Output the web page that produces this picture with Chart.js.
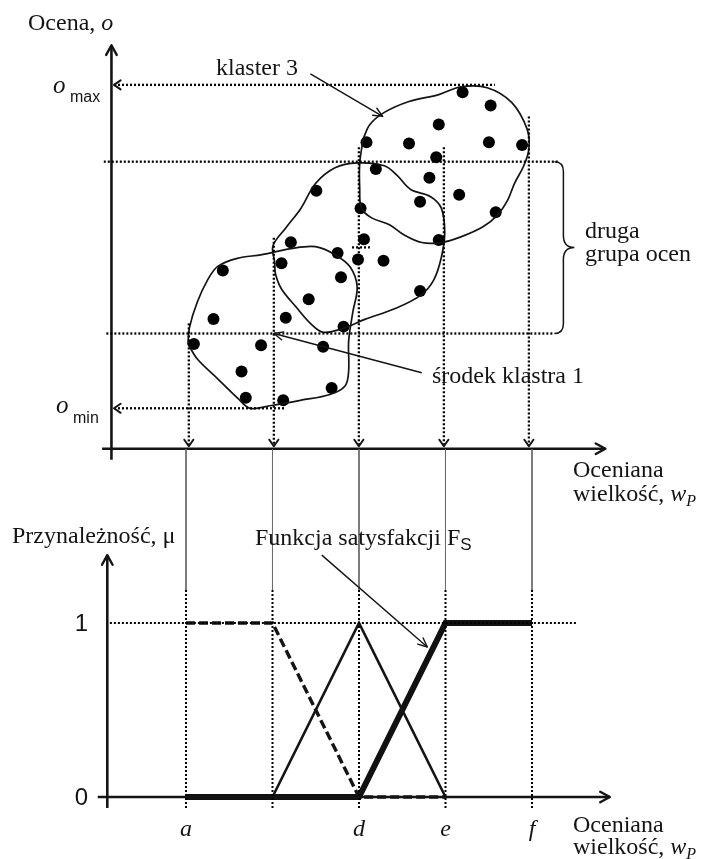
<!DOCTYPE html>
<html>
<head>
<meta charset="utf-8">
<script src="https://cdn.jsdelivr.net/npm/chart.js@4/dist/chart.umd.min.js"></script>
<style>
  html, body { margin: 0; padding: 0; background: #fff; }
  #wrap { position: relative; width: 701px; height: 859px; }
  #wrap canvas { position: absolute; left: 0; top: 0; }
</style>
</head>
<body>
<div id="wrap">
  <canvas id="ratings" width="701" height="859"></canvas>
  <canvas id="membership" width="701" height="859"></canvas>
</div>
<script>
// ---- assessed quantity w_P: characteristic points ----
const wProjections = [1, 2, 3, 4, 5];          // projection lines a, (b), d, e, f
const wTickValues  = [1, 3, 4, 5];
const wTickLabels  = ['a', 'd', 'e', 'f'];

// ---- rating scale o ----
const oMin = 1;
const oMax = 9;
const groupTop = 7.1;        // second rating group, upper bound
const groupBottom = 2.85;    // second rating group, lower bound (centre of cluster 1)
const projectionTops = [3.10, 5.22, 7.46, 7.46, 8.22];

// ---- individual ratings (w_P, o) ----
const ratingW = [1.06,1.29,1.40,1.62,1.67,1.85,2.11,2.09,2.14,2.20,2.41,2.58,2.68,2.50,2.75,2.79,2.82,2.99,3.02,3.06,
                 3.29,3.09,3.20,3.59,3.72,3.72,3.83,3.91,3.94,3.94,4.18,4.22,4.53,4.55,4.61,4.92];
const ratingO = [2.59,3.21,4.41,1.91,1.26,2.56,1.20,4.59,3.24,5.11,3.70,2.52,1.50,6.38,4.84,4.24,3.02,4.68,5.95,5.18,
                 4.65,7.58,6.92,7.55,6.11,3.90,6.70,7.21,5.16,8.02,6.28,8.82,7.58,8.49,5.85,7.51];

// ---- cluster outlines ----
const cluster1W = [0.99,1.01,1.10,1.22,1.34,1.57,1.86,2.20,2.49,2.72,2.90,2.98,2.93,2.88,2.88,2.84,2.66,2.32,1.97,1.72,1.58,1.34,1.10,0.99];
const cluster1O = [2.59,3.02,3.63,4.17,4.51,4.71,4.80,4.95,5.00,4.80,4.49,4.00,3.39,2.66,1.93,1.56,1.34,1.20,1.07,1.00,1.24,1.73,2.22,2.59];
const cluster2W = [2.01,1.99,2.14,2.32,2.49,2.72,2.98,3.30,3.45,3.61,3.84,3.97,4.01,3.97,3.88,3.73,3.42,3.07,2.82,2.58,2.43,2.26,2.09,2.02,2.01];
const cluster2O = [4.61,5.02,5.46,5.95,6.56,6.95,7.07,7.00,6.76,6.41,6.24,5.95,5.34,4.73,4.17,3.80,3.46,3.20,2.98,2.88,3.10,3.51,3.95,4.32,4.61];
const cluster3W = [3.05,3.13,3.30,3.59,3.94,4.20,4.51,4.80,4.98,5.00,4.94,4.83,4.75,4.63,4.46,4.20,3.97,3.74,3.53,3.36,3.15,3.03,3.01,3.01,3.05];
const cluster3O = [7.66,8.02,8.32,8.59,8.76,8.95,8.93,8.56,7.90,7.41,7.00,6.56,6.15,5.78,5.49,5.24,5.10,5.10,5.29,5.54,5.71,5.95,6.44,7.05,7.66];

// ---- membership functions μ(w_P) ----
const lowW = [1, 2, 3, 4];   const lowMu = [1, 1, 0, 0];     // dashed
const midW = [2, 3, 4];      const midMu = [0, 1, 0];        // thin triangle
const satW = [1, 3, 4, 5];   const satMu = [0, 0, 1, 1];     // satisfaction function F_S

// ---------------------------------------------------------------
const INK = '#141414';
const SERIF = '"Liberation Serif", "Times New Roman", serif';
const SANS = '"Liberation Sans", Arial, sans-serif';
const X_RANGE = { min: -1.1503, max: 6.9538 };

const zip = (xs, ys) => xs.map((x, i) => ({ x, y: ys[i] }));
const seg = (x1, y1, x2, y2) => [{ x: x1, y: y1 }, { x: x2, y: y2 }];

function lineSet(data, extra) {
  return Object.assign({
    data, showLine: true, pointRadius: 0, borderColor: INK, borderWidth: 1.6,
    fill: false, tension: 0
  }, extra || {});
}
const dotted = (data, extra) => lineSet(data, Object.assign({ borderDash: [2, 2], borderWidth: 2.3, borderColor: '#000' }, extra || {}));

function chevron(ctx, x, y, ang, len, spread, width) {
  ctx.save();
  ctx.strokeStyle = INK;
  ctx.lineWidth = width;
  ctx.lineCap = 'round';
  ctx.lineJoin = 'round';
  ctx.beginPath();
  ctx.moveTo(x - len * Math.cos(ang - spread), y - len * Math.sin(ang - spread));
  ctx.lineTo(x, y);
  ctx.lineTo(x - len * Math.cos(ang + spread), y - len * Math.sin(ang + spread));
  ctx.stroke();
  ctx.restore();
}

// arrowheads at the ends of line datasets that ask for them
const arrowPlugin = {
  id: 'arrowHeads',
  afterDatasetsDraw(chart) {
    const ctx = chart.ctx;
    chart.data.datasets.forEach((ds, i) => {
      if (!ds.arrowAt) return;
      const pts = chart.getDatasetMeta(i).data;
      const n = pts.length;
      const len = ds.arrowLen || 8, w = ds.arrowWidth || 2, sp = ds.arrowSpread || 0.6;
      if (ds.arrowAt.includes('end')) {
        const p = pts[n - 1], q = pts[n - 2];
        chevron(ctx, p.x, p.y, Math.atan2(p.y - q.y, p.x - q.x), len, sp, w);
      }
      if (ds.arrowAt.includes('start')) {
        const p = pts[0], q = pts[1];
        chevron(ctx, p.x, p.y, Math.atan2(p.y - q.y, p.x - q.x), len, sp, w);
      }
    });
  }
};

// text made of runs: [text, font, dy]
function runs(ctx, x, y, parts) {
  ctx.save();
  ctx.fillStyle = INK;
  ctx.textBaseline = 'alphabetic';
  ctx.textAlign = 'left';
  let cx = x;
  parts.forEach(([t, f, dy]) => {
    ctx.font = f;
    ctx.fillText(t, cx, y + (dy || 0));
    cx += ctx.measureText(t).width;
  });
  ctx.restore();
}

function pointer(chart, x1, y1, x2, y2) {
  const ctx = chart.ctx, sx = chart.scales.x, sy = chart.scales.y;
  const ax = sx.getPixelForValue(x1), ay = sy.getPixelForValue(y1);
  const bx = sx.getPixelForValue(x2), by = sy.getPixelForValue(y2);
  ctx.save();
  ctx.strokeStyle = INK;
  ctx.lineWidth = 1.4;
  ctx.beginPath();
  ctx.moveTo(ax, ay);
  ctx.lineTo(bx, by);
  ctx.stroke();
  ctx.restore();
  chevron(ctx, bx, by, Math.atan2(by - ay, bx - ax), 10, 0.42, 1.4);
}

const baseOptions = (yMin, yMax) => ({
  responsive: false,
  animation: false,
  events: [],
  layout: { padding: 0 },
  plugins: { legend: { display: false }, tooltip: { enabled: false } },
  scales: {
    x: { type: 'linear', min: X_RANGE.min, max: X_RANGE.max, display: false },
    y: { type: 'linear', min: yMin, max: yMax, display: false }
  }
});

const F24 = '24px ' + SERIF;
const F24I = 'italic 24px ' + SERIF;

// ================= upper chart: ratings and clusters =================
const ratingSets = [];
ratingSets.push(dotted(seg(0.12, oMax, 4.60, oMax), { arrowAt: ['start'] }));
ratingSets.push(dotted(seg(0.0, groupTop, 5.35, groupTop)));
ratingSets.push(dotted(seg(0.03, groupBottom, 5.30, groupBottom)));
ratingSets.push(dotted(seg(0.12, oMin, 2.12, oMin), { arrowAt: ['start'] }));
ratingSets.push(dotted(seg(2.92, 4.98, 3.13, 4.98)));
wProjections.forEach((w, i) => {
  ratingSets.push(dotted(seg(w, projectionTops[i], w, 0.06), { arrowAt: ['end'] }));
});
[[cluster1W, cluster1O], [cluster2W, cluster2O], [cluster3W, cluster3O]].forEach(([w, o]) => {
  ratingSets.push(lineSet(zip(w, o), { tension: 0.35, borderWidth: 1.7 }));
});
ratingSets.push({
  data: zip(ratingW, ratingO), showLine: false, pointRadius: 6,
  pointBackgroundColor: '#000', pointBorderColor: '#000', pointBorderWidth: 0
});
ratingSets.push(lineSet(seg(0.09, -0.27, 0.09, 9.98), { borderWidth: 2.6, arrowAt: ['end'], arrowLen: 11, arrowWidth: 2.4, arrowSpread: 0.5 }));
ratingSets.push(lineSet(seg(-0.02, 0, 5.90, 0), { borderWidth: 2.6, arrowAt: ['end'], arrowLen: 11, arrowWidth: 2.4, arrowSpread: 0.5 }));

const ratingText = {
  id: 'ratingText',
  afterDraw(chart) {
    const ctx = chart.ctx, sx = chart.scales.x, sy = chart.scales.y;
    runs(ctx, 28, 30, [['Ocena, ', F24], ['o', F24I]]);
    const yMax = sy.getPixelForValue(oMax), yMin = sy.getPixelForValue(oMin);
    runs(ctx, 53, yMax + 8, [['o', 'italic 25px ' + SERIF]]);
    runs(ctx, 70, yMax + 17, [['max', '16px ' + SANS]]);
    runs(ctx, 56, yMin + 5, [['o', 'italic 25px ' + SERIF]]);
    runs(ctx, 73, yMin + 15, [['min', '16px ' + SANS]]);
    runs(ctx, 216, 75, [['klaster 3', F24]]);
    runs(ctx, 585, 238, [['druga', F24]]);
    runs(ctx, 585, 261, [['grupa ocen', F24]]);
    runs(ctx, 432, 383, [['środek klastra 1', F24]]);
    pointer(chart, 2.43, 9.27, 3.28, 8.22);
    pointer(chart, 3.74, 1.88, 2.0, groupBottom);

    // brace spanning the second rating group
    const top = sy.getPixelForValue(groupTop), bot = sy.getPixelForValue(groupBottom);
    const mid = (top + bot) / 2, x0 = sx.getPixelForValue(5.30), xs = x0 + 9, xt = x0 + 20;
    ctx.save();
    ctx.strokeStyle = INK; ctx.lineWidth = 1.5;
    ctx.beginPath();
    ctx.moveTo(x0, top);
    ctx.quadraticCurveTo(xs, top, xs, top + 10);
    ctx.lineTo(xs, mid - 12);
    ctx.quadraticCurveTo(xs, mid, xt, mid);
    ctx.quadraticCurveTo(xs, mid, xs, mid + 12);
    ctx.lineTo(xs, bot - 10);
    ctx.quadraticCurveTo(xs, bot, x0, bot);
    ctx.stroke();
    ctx.restore();
  }
};

new Chart(document.getElementById('ratings'), {
  type: 'scatter',
  data: { datasets: ratingSets },
  options: baseOptions(-10.0, 10.951),
  plugins: [arrowPlugin, ratingText]
});

// ================= lower chart: membership functions =================
const muSets = [];
muSets.push(dotted(seg(0.12, 1, 5.52, 1), { borderWidth: 1.8 }));
wProjections.forEach(w => {
  muSets.push(lineSet(seg(w, 2.0, w, 1.19), { borderWidth: 1, borderColor: '#6a6a6a' }));
  muSets.push(dotted(seg(w, 1.19, w, -0.063), { borderWidth: 2 }));
});
muSets.push(lineSet(seg(0.09, -0.063, 0.09, 1.39), { borderWidth: 2.6, arrowAt: ['end'], arrowLen: 11, arrowWidth: 2.4, arrowSpread: 0.5 }));
muSets.push(lineSet(seg(-0.02, 0, 5.90, 0), { borderWidth: 2.6, arrowAt: ['end'], arrowLen: 11, arrowWidth: 2.4, arrowSpread: 0.5 }));
muSets.push(lineSet(zip(lowW, lowMu), { borderWidth: 3.4, borderDash: [9, 4] }));
muSets.push(lineSet(zip(midW, midMu), { borderWidth: 2.6 }));
muSets.push(lineSet(zip(satW, satMu), { borderWidth: 6, borderColor: '#111' }));

const muText = {
  id: 'muText',
  afterDraw(chart) {
    const ctx = chart.ctx, sx = chart.scales.x, sy = chart.scales.y;
    runs(ctx, 573, 477, [['Oceniana', F24]]);
    runs(ctx, 573, 501, [['wielkość, ', F24], ['w', F24I], ['P', 'italic 16px ' + SERIF, 5]]);
    runs(ctx, 12, 543, [['Przynależność, μ', F24]]);
    runs(ctx, 255, 545, [['Funkcja satysfakcji F', F24], ['S', '17px ' + SANS, 5]]);
    pointer(chart, 2.57, 1.39, 3.79, 0.862);

    ctx.save();
    ctx.fillStyle = INK;
    ctx.font = '24px ' + SANS;
    ctx.textAlign = 'right';
    ctx.textBaseline = 'middle';
    [1, 0].forEach(v => ctx.fillText(String(v), 88, sy.getPixelForValue(v) + 1));
    ctx.font = F24I;
    ctx.textAlign = 'center';
    ctx.textBaseline = 'alphabetic';
    wTickValues.forEach((v, i) => ctx.fillText(wTickLabels[i], sx.getPixelForValue(v), 836));
    ctx.restore();

    runs(ctx, 573, 832, [['Oceniana', F24]]);
    runs(ctx, 573, 854, [['wielkość, ', F24], ['w', F24I], ['P', 'italic 16px ' + SERIF, 5]]);
  }
};

new Chart(document.getElementById('membership'), {
  type: 'scatter',
  data: { datasets: muSets },
  options: baseOptions(-0.35632, 4.58046),
  plugins: [arrowPlugin, muText]
});
</script>
</body>
</html>
